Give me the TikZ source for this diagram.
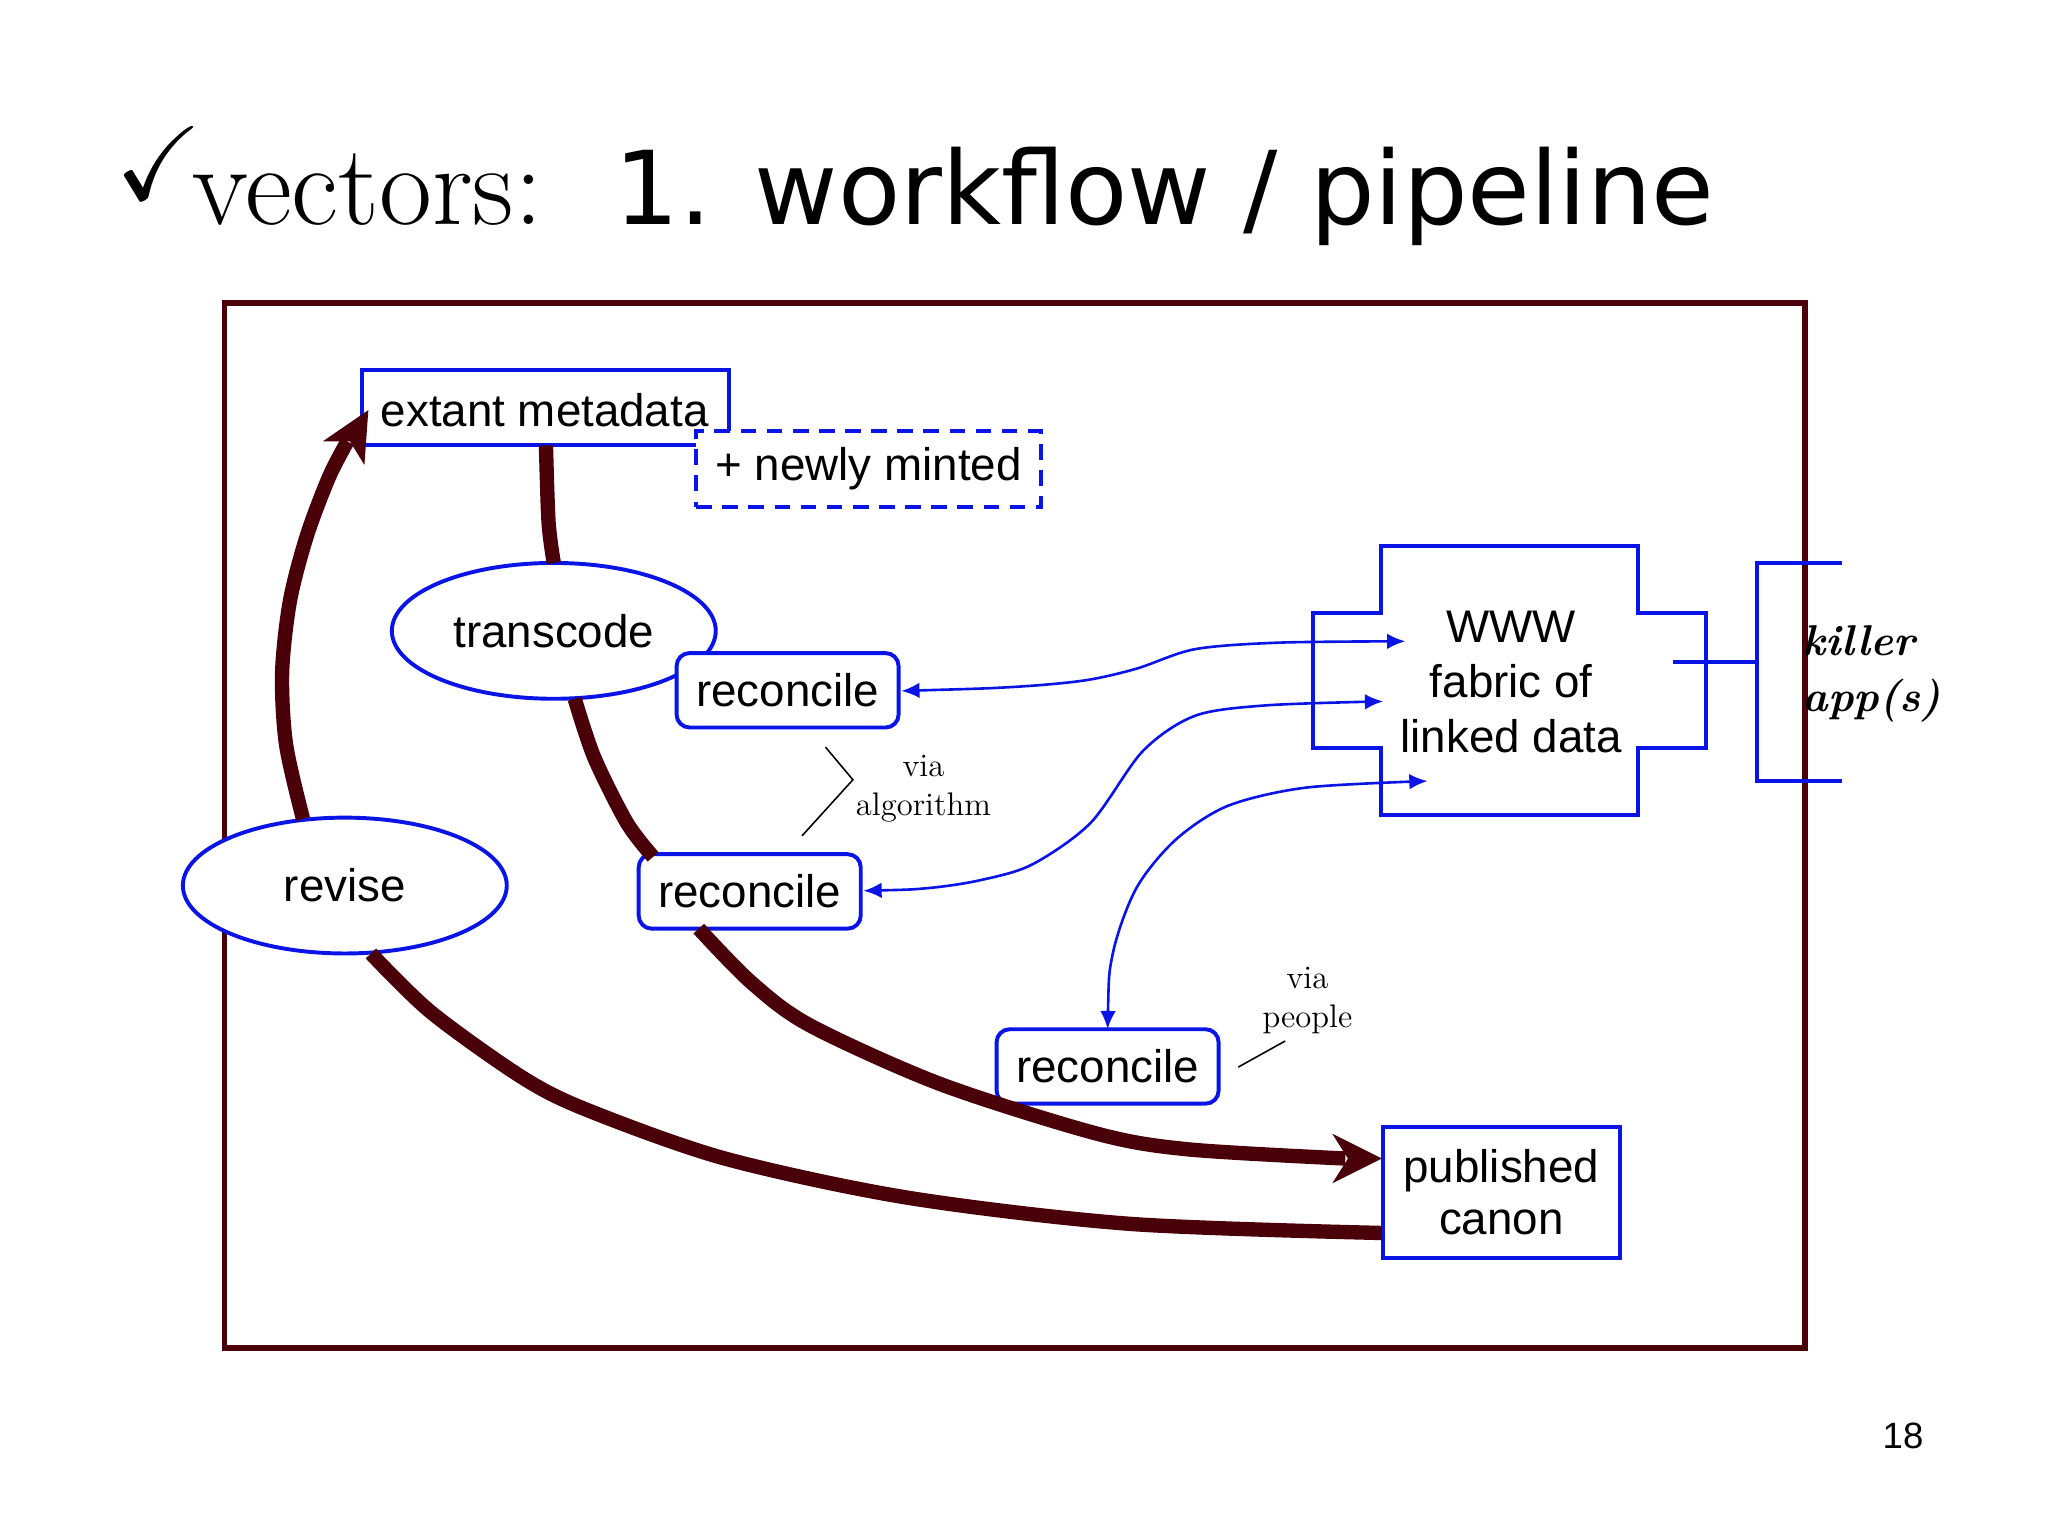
\documentclass[tikz,border=0pt]{standalone}
\usepackage{amssymb}
\usepackage{fontspec}
\newfontfamily\arialf{Liberation Sans}
\newfontfamily\verdf{DejaVu Sans}
\usetikzlibrary{arrows.meta}
\definecolor{dred}{HTML}{4A0008}
\definecolor{bl}{HTML}{0A14E6}
\tikzset{
  box/.style={draw=bl,line width=1.5pt,fill=white,inner sep=0pt,font=\arialf\fontsize{17.5}{20}\selectfont},
  ell/.style={draw=bl,line width=1.5pt,fill=white,ellipse,inner sep=0pt,font=\arialf\fontsize{17.5}{20}\selectfont},
  flow/.style={draw=dred,line width=5.5pt},
  link/.style={draw=bl,line width=1pt,{Latex[length=7pt,width=6pt]}-{Latex[length=7pt,width=6pt]}},
  note/.style={font=\fontsize{12.5}{15}\selectfont,align=center},
  thin/.style={line width=0.6pt}
}
\usetikzlibrary{shapes.geometric}
\begin{document}
\begin{tikzpicture}[x=0.5pt,y=-0.5pt]
\useasboundingbox[fill=white] (0,0) rectangle (1568,1176);
% title
\node[anchor=base west,inner sep=0pt,font=\fontsize{40}{40}\selectfont] (chk) at (88,153) {$\checkmark$};
\node[anchor=base west,inner sep=0pt,font=\fontsize{44}{46}\selectfont] (vec) at (147,172) {vectors:};
\node[anchor=base west,inner sep=0pt,font=\verdf\fontsize{39}{46}\selectfont] (ttl) at (470,172) {1. workflow / pipeline};
% frame
\draw[dred,line width=2pt] (172,232) rectangle (1382,1032);
% nodes
\node[box,minimum width=140.5pt,minimum height=29pt] (ext) at (417.5,312) {};
\node[font=\arialf\fontsize{17.5}{20}\selectfont] at (417,314) {extant metadata};
\node[box,dashed,dash pattern=on 6pt off 4pt,minimum width=132pt,minimum height=29pt] (new) at (665,359) {+ newly minted};
\node[ell,minimum width=124pt,minimum height=52pt] (trans) at (424,483) {transcode};
\node[box,rounded corners=5pt,minimum width=85pt,minimum height=28.5pt] (rec1) at (603,528.5) {reconcile};
\node[box,rounded corners=5pt,minimum width=85pt,minimum height=28.5pt] (rec2) at (574,682.5) {reconcile};
\node[box,rounded corners=5pt,minimum width=85pt,minimum height=28.5pt] (rec3) at (848,816.5) {reconcile};
\node[ell,minimum width=124pt,minimum height=52pt] (rev) at (264,678) {revise};
\node[box,minimum width=90.5pt,minimum height=50pt,align=center] (pub) at (1149.5,913) {published\\canon};
% WWW
\draw[bl,line width=1.5pt] (1057,418)--(1254,418)--(1254,469)--(1306,469)--(1306,573)--(1254,573)--(1254,624)--(1057,624)--(1057,573)--(1005,573)--(1005,469)--(1057,469)--cycle;
\node[align=center,inner sep=0pt,font=\arialf\fontsize{17.5}{21}\selectfont] (www) at (1157,522) {WWW\\fabric of\\linked data};
% killer app
\draw[bl,line width=1.5pt] (1410,431)--(1345,431)--(1345,598)--(1410,598);
\draw[bl,line width=1.5pt] (1281,507)--(1345,507);
\node[align=left,anchor=west,inner sep=0pt,font=\bfseries\itshape\fontsize{16.5}{21.5}\selectfont] (kill) at (1380,516) {killer\\app(s)};
% notes
\node[note] (via1) at (707,604) {via\\algorithm};
\draw[thin] (632,572)--(653,597)--(614,640);
\node[note] (via2) at (1001,766) {via\\people};
\draw[thin] (948,817)--(984,797);
\node[inner sep=0pt,font=\arialf\fontsize{14}{16}\selectfont] (pg) at (1457,1099) {18};
% flows
\draw[flow] plot[smooth] coordinates {(418,341) (420,400) (424,431)};
\draw[flow] plot[smooth] coordinates {(440,535) (455,580) (480,630) (500,656)};
\draw[flow] plot[smooth] coordinates {(535,711) (575,752) (620,785) (720,830) (840,868) (910,880) (1030,887)};
\draw[flow] plot[smooth] coordinates {(232,627) (219,570) (216,515) (222,460) (235,410) (252,365) (266,338)};
\draw[flow] plot[smooth] coordinates {(284,730) (330,775) (400,825) (450,850) (555,887) (695,917) (865,937) (1058,944)};
\fill[dred] (1058,887)--(1020,868)--(1032,887)--(1020,906)--cycle;
\fill[dred] (282,314)--(279,356)--(268,338)--(247,338)--cycle;
% links
\draw[link] plot[smooth] coordinates {(690,529) (775,526) (830,521) (870,512) (915,497) (980,492) (1076,491)};
\draw[link] plot[smooth] coordinates {(661,682) (710,680) (750,674) (790,662) (835,630) (875,575) (915,548) (970,540) (1059,537)};
\draw[link] plot[smooth] coordinates {(848,788) (852,730) (870,680) (900,643) (940,617) (1000,603) (1093,598)};
\end{tikzpicture}
\end{document}
